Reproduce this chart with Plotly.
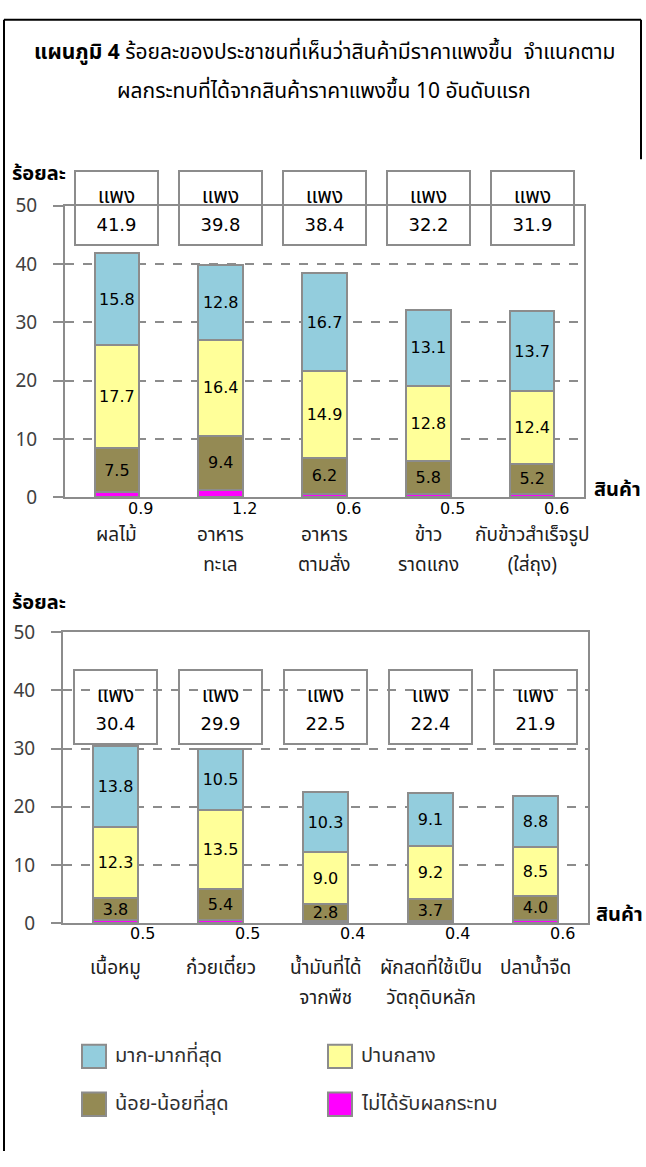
import plotly.graph_objects as go

W, H = 646, 1167

# ── Data ────────────────────────────────────────────────────────────────────────
top_items = ["ผลไม้", "อาหาร<br>ทะเล", "อาหาร<br>ตามสั่ง", "ข้าว<br>ราดแกง",
             "กับข้าวสำเร็จรูป<br>(ใส่ถุง)"]
top_none = [0.9, 1.2, 0.6, 0.5, 0.6]
top_low = [7.5, 9.4, 6.2, 5.8, 5.2]
top_mid = [17.7, 16.4, 14.9, 12.8, 12.4]
top_high = [15.8, 12.8, 16.7, 13.1, 13.7]
top_total = [41.9, 39.8, 38.4, 32.2, 31.9]

bot_items = ["เนื้อหมู", "ก๋วยเตี๋ยว", "น้ำมันที่ได้<br>จากพืช", "ผักสดที่ใช้เป็น<br>วัตถุดิบหลัก",
             "ปลาน้ำจืด"]
bot_none = [0.5, 0.5, 0.4, 0.4, 0.6]
bot_low = [3.8, 5.4, 2.8, 3.7, 4.0]
bot_mid = [12.3, 13.5, 9.0, 9.2, 8.5]
bot_high = [13.8, 10.5, 10.3, 9.1, 8.8]
bot_total = [30.4, 29.9, 22.5, 22.4, 21.9]

series_names = ["ไม่ได้รับผลกระทบ", "น้อย-น้อยที่สุด", "ปานกลาง", "มาก-มากที่สุด"]
y_ticks = [0, 10, 20, 30, 40, 50]

title_lines = ["<b>แผนภูมิ 4</b> ร้อยละของประชาชนที่เห็นว่าสินค้ามีราคาแพงขึ้น  จำแนกตาม",
               "ผลกระทบที่ได้จากสินค้าราคาแพงขึ้น 10 อันดับแรก"]

# ── Style ───────────────────────────────────────────────────────────────────────
THAI = "'Noto Sans Thai', Tahoma, 'DejaVu Sans', sans-serif"
NUM = "'DejaVu Sans', Tahoma, sans-serif"
GRAY = "#8c8c8c"
COLORS = ["#FF00FF", "#948A54", "#FFFF99", "#93CDDD"]


def px_x(px):
    return px / W


def px_y(px):
    return 1 - px / H


def spaced(lines, sizes, fams):
    # big base font gives the wide line spacing, inner spans set the real glyph size
    return "<br>".join(f"<span style=\"font-size:{s}px;font-family:{f}\">{t}</span>"
                       for t, s, f in zip(lines, sizes, fams))


fig = go.Figure()

panels = [
    dict(items=top_items, series=[top_none, top_low, top_mid, top_high], total=top_total,
         xa="x", ya="y", box_y=49.6, none_dx=24, none_dy=-11, cat_dy=-22),
    dict(items=bot_items, series=[bot_none, bot_low, bot_mid, bot_high], total=bot_total,
         xa="x2", ya="y2", box_y=37.2, none_dx=27, none_dy=-10, cat_dy=-29),
]

annotations = []
for p in panels:
    for i, (name, vals) in enumerate(zip(series_names, p["series"])):
        fig.add_trace(go.Bar(
            x=p["items"], y=vals, name=name,
            xaxis=p["xa"], yaxis=p["ya"],
            width=0.43,
            marker=dict(color=COLORS[i], line=dict(color=GRAY, width=2)),
            text=None if i == 0 else [f"{v:.1f}" for v in vals],
            textposition="inside", insidetextanchor="middle", textangle=0,
            textfont=dict(family=NUM, size=16, color="black"),
            constraintext="none", cliponaxis=False,
            showlegend=False, hoverinfo="skip",
        ))

    for item, none_v, tot in zip(p["items"], p["series"][0], p["total"]):
        # "แพง" boxes
        annotations.append(dict(
            x=item, y=p["box_y"], xref=p["xa"], yref=p["ya"],
            text=spaced(["แพง", f"{tot:.1f}"], [21, 18], [THAI, NUM]),
            font=dict(family=THAI, size=22, color="black"),
            width=81, height=72, borderpad=0,
            bordercolor=GRAY, borderwidth=2, showarrow=False,
        ))
        # small "no impact" value under the axis
        annotations.append(dict(
            x=item, y=0, xref=p["xa"], yref=p["ya"],
            text=f"{none_v:.1f}", font=dict(family=NUM, size=16, color="black"),
            xshift=p["none_dx"], yshift=p["none_dy"], yanchor="middle", showarrow=False,
        ))
        # category label
        lines = item.split("<br>")
        annotations.append(dict(
            x=item, y=0, xref=p["xa"], yref=p["ya"],
            text=spaced(lines, [19] * len(lines), [THAI] * len(lines)),
            font=dict(family=THAI, size=23, color="#202020"),
            yshift=p["cat_dy"], yanchor="top", showarrow=False,
        ))

# axis titles
for y_c, x_l in [(165, 10), (605, 10)]:
    annotations.append(dict(x=px_x(x_l), y=px_y(y_c), xref="paper", yref="paper",
                            xanchor="left", yanchor="middle", text="<b>ร้อยละ</b>",
                            font=dict(family=THAI, size=20, color="black"), showarrow=False))
for y_c, x_l in [(489, 592), (925, 594)]:
    annotations.append(dict(x=px_x(x_l), y=px_y(y_c), xref="paper", yref="paper",
                            xanchor="left", yanchor="middle", text="<b>สินค้า</b>",
                            font=dict(family=THAI, size=20, color="black"), showarrow=False))

# title
for y_c, line in zip([41, 80], title_lines):
    annotations.append(dict(x=px_x(324), y=px_y(y_c), xref="paper", yref="paper",
                            xanchor="center", yanchor="middle", text=line,
                            font=dict(family=THAI, size=21, color="black"), showarrow=False))

# legend (2 x 2 grid, large swatches)
shapes = []
legend_pos = [(328, 1119), (82, 1119), (328, 1070), (82, 1070)]
for name, color, (lx, ly) in zip(series_names, COLORS, legend_pos):
    shapes.append(dict(type="rect", xref="paper", yref="paper",
                       x0=px_x(lx), x1=px_x(lx + 24), y0=px_y(ly - 12), y1=px_y(ly + 12),
                       fillcolor=color, line=dict(color=GRAY, width=2)))
    annotations.append(dict(x=px_x(lx + 31), y=px_y(ly), xref="paper", yref="paper",
                            xanchor="left", yanchor="middle", text=name,
                            font=dict(family=THAI, size=20, color="#303030"), showarrow=False))

# outer frame: left and top edges run the full page, right edge only beside the title
for x0, y0, x1, y1 in [(4, 7, 4, 1167), (4, 7, 641, 7), (641, 7, 641, 150)]:
    shapes.append(dict(type="line", xref="paper", yref="paper",
                       x0=px_x(x0), y0=px_y(y0), x1=px_x(x1), y1=px_y(y1),
                       line=dict(color="black", width=2)))

x_common = dict(type="category", range=[-0.5, 4.5], showline=True, linecolor=GRAY, linewidth=2,
                mirror=True, showgrid=False, showticklabels=False, ticks="", zeroline=False)
y_common = dict(range=[0, 50], tickvals=y_ticks, showline=True, linecolor=GRAY, linewidth=2,
                mirror=True, ticks="outside", ticklen=10, tickwidth=2, tickcolor=GRAY,
                showgrid=True, gridcolor=GRAY, gridwidth=1.5, griddash="dash", zeroline=False,
                tickfont=dict(family=THAI, size=19, color="#404040"), ticklabelstandoff=12)

fig.update_layout(
    width=W, height=H,
    margin=dict(l=0, r=0, t=0, b=0),
    paper_bgcolor="white", plot_bgcolor="white",
    barmode="stack",
    showlegend=False,
    font=dict(family=THAI),
    xaxis=dict(**x_common, domain=[px_x(65), px_x(584)], anchor="y"),
    yaxis=dict(**y_common, domain=[px_y(496.7), px_y(197.7)], anchor="x"),
    xaxis2=dict(**x_common, domain=[px_x(63), px_x(588)], anchor="y2"),
    yaxis2=dict(**y_common, domain=[px_y(933.3), px_y(635)], anchor="x2"),
    annotations=annotations,
    shapes=shapes,
)

fig.write_html("out.html", config={"displayModeBar": False},
               post_script="document.body.style.margin='0';")
